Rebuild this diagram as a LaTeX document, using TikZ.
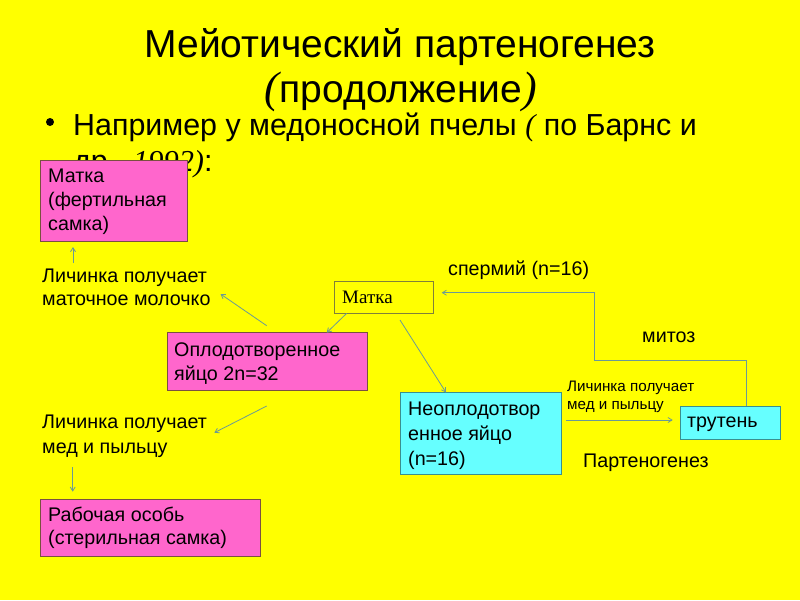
\documentclass[tikz,border=0pt]{standalone}
\usepackage{fontspec}
\setmainfont{Liberation Sans}
\newfontfamily\seriff{Liberation Serif}
\usetikzlibrary{arrows.meta}
\definecolor{bg}{HTML}{FFFF00}
\definecolor{pinkf}{HTML}{FF66CC}
\definecolor{cyanf}{HTML}{66FFFF}
\definecolor{pinkd}{HTML}{7A5040}
\definecolor{cyand}{HTML}{3A8F8F}
\definecolor{yeld}{HTML}{80803A}
\definecolor{conn}{HTML}{6A9A96}
\tikzset{
  box/.style={draw, line width=1pt, anchor=north west, inner sep=0pt},
  pinkbox/.style={box, fill=pinkf, draw=pinkd},
  cyanbox/.style={box, fill=cyanf, draw=cyand},
  yelbox/.style={box, fill=bg, draw=yeld},
  txt/.style={anchor=base west, inner sep=0pt, font=\fontsize{19.7}{24}\selectfont},
  conn/.style={draw=conn, line width=0.8pt, -{Straight Barb[length=4pt,width=5pt]}},
}
\begin{document}
\begin{tikzpicture}[x=1pt,y=-1pt]
\fill[bg] (0,0) rectangle (800,600);
\useasboundingbox (0,0) rectangle (800,600);
% title
\node[anchor=base, inner sep=0pt, font=\fontsize{39}{44}\selectfont] (t1) at (400,57) {Мейотический партеногенез};
\node[anchor=base, inner sep=0pt, font=\fontsize{39}{44}\selectfont] (t2) at (401,102) {{\seriff\itshape\fontsize{44}{48}\selectfont(}продолжение{\seriff\itshape\fontsize{44}{48}\selectfont)}};
% bullet
\fill (50,122) circle (4) coordinate (bul);
\node[anchor=base west, inner sep=0pt, font=\fontsize{30.4}{36}\selectfont] (b1) at (73,135) {Например у медоносной пчелы {\seriff\itshape(} по Барнс и};
\node[anchor=base west, inner sep=0pt, font=\fontsize{30.4}{36}\selectfont] (b2) at (73,171) {др., {\seriff\itshape 1992)}:};
% boxes
\node[pinkbox, minimum width=147, minimum height=81] (matka1) at (40,160) {};
\node[txt] at (48,182) {Матка};
\node[txt] at (48,206) {(фертильная};
\node[txt] at (48,230) {самка)};

\node[yelbox, minimum width=99, minimum height=32] (matka2) at (334,281) {};
\node[anchor=base west, inner sep=0pt, font=\seriff\fontsize{19}{22}\selectfont] at (342,303) {Матка};

\node[pinkbox, minimum width=200, minimum height=58] (opl) at (167,332) {};
\node[txt] at (174,356) {Оплодотворенное};
\node[txt] at (174,380) {яйцо 2n=32};

\node[cyanbox, minimum width=161, minimum height=82] (neopl) at (400,392) {};
\node[txt] at (408,415) {Неоплодотвор};
\node[txt] at (408,440) {енное яйцо};
\node[txt] at (408,465) {(n=16)};

\node[cyanbox, minimum width=100, minimum height=33] (trut) at (680,406) {};
\node[txt] at (687,427) {трутень};

\node[pinkbox, minimum width=220, minimum height=57] (rab) at (40,499) {};
\node[txt] at (48,521) {Рабочая особь};
\node[txt] at (48,544) {(стерильная самка)};

% free labels
\node[txt] (l1a) at (42,282) {Личинка получает};
\node[txt] (l1b) at (42,305) {маточное молочко};
\node[txt] (l2a) at (42,428) {Личинка получает};
\node[txt] (l2b) at (42,453) {мед и пыльцу};
\node[txt] (sp) at (448,275) {спермий (n=16)};
\node[txt] (mit) at (642,342) {митоз};
\node[txt, font=\fontsize{15.2}{18}\selectfont] (l3a) at (567,391) {Личинка получает};
\node[txt, font=\fontsize{15.2}{18}\selectfont] (l3b) at (567,409) {мед и пыльцу};
\node[txt] (part) at (583,467) {Партеногенез};

% connectors
\coordinate (a1s) at (73,263);
\coordinate (a1e) at (73,247);
\draw[conn] (a1s) -- (a1e);
\coordinate (a2s) at (266.7,325.7);
\coordinate (a2e) at (220.5,294);
\draw[conn] (a2s) -- (a2e);
\coordinate (a3s) at (346.7,313.3);
\coordinate (a3e) at (326.7,332.7);
\draw[conn] (a3s) -- (a3e);
\coordinate (a4s) at (400,320);
\coordinate (a4e) at (446,392.5);
\draw[conn] (a4s) -- (a4e);
\coordinate (a5s) at (266.7,406);
\coordinate (a5e) at (214.3,432.7);
\draw[conn] (a5s) -- (a5e);
\coordinate (a6s) at (72.7,467);
\coordinate (a6e) at (72.7,491.7);
\draw[conn] (a6s) -- (a6e);
\coordinate (a7s) at (566,420);
\coordinate (a7e) at (672.7,420);
\draw[conn] (a7s) -- (a7e);
\coordinate (a8e) at (441.7,292.7);
\draw[conn] (trut.north -| 746.7,0) -- (746.7,360) -- (594,360) -- (594,292.7) -- (a8e);
\end{tikzpicture}
\end{document}
